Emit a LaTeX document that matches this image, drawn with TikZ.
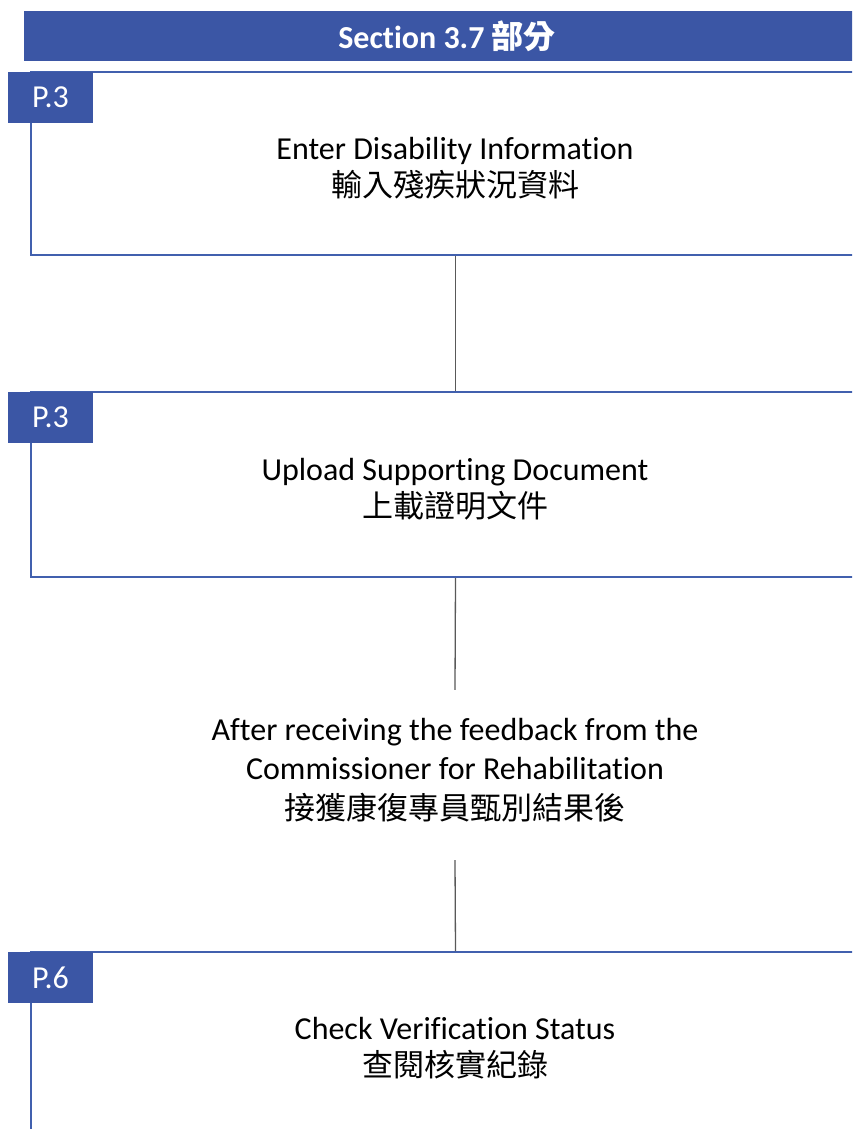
\documentclass[tikz,border=0pt]{standalone}
\usepackage{fontspec}
\setmainfont{Carlito}[Ligatures={NoCommon,NoContextual},RawFeature={-clig;-dlig}]
\newfontfamily\cjk{Noto Sans CJK TC}
\definecolor{hdrblue}{HTML}{3B56A5}
\definecolor{frameblue}{HTML}{4160AE}
\definecolor{linkgray}{HTML}{595959}
\tikzset{
  frame/.style={draw=frameblue, line width=2pt, minimum width=849pt, inner sep=0pt},
  tag/.style={fill=hdrblue, text=white, minimum width=85pt, minimum height=51pt, inner sep=0pt,
    font=\fontsize{32}{36}\selectfont},
  steptext/.style={align=center, text=black, font=\fontsize{32}{37}\selectfont},
  link/.style={draw=linkgray, line width=1.3pt},
}
\newcommand{\cjkline}[1]{{\cjk\fontsize{31}{37}\selectfont #1}}
\begin{document}
\begin{tikzpicture}[x=1pt,y=-1pt]
\useasboundingbox (0,0) rectangle (852,1129);
\clip (0,0) rectangle (852,1129);
\fill[white] (0,0) rectangle (852,1129);
% header
\node[fill=hdrblue, text=white, minimum width=846pt, minimum height=50pt, inner sep=0pt,
  font=\fontsize{32}{36}\selectfont\bfseries] (hdr) at (447,36) {Section 3.7 {\cjk\bfseries 部分}};
% frames
\node[frame, minimum height=183pt] (b1) at (455.5,163.5) {};
\node[frame, minimum height=185pt] (b2) at (455.5,484.5) {};
\node[frame, minimum height=220pt] (b3) at (455.5,1062) {};
% tags
\node[tag] (t1) at (50.5,97.5) {P.3};
\node[tag] (t2) at (50.5,417.5) {P.3};
\node[tag] (t3) at (50.5,977.5) {P.6};
% texts
\node[steptext] (s1) at (455,168) {Enter Disability Information\\\cjkline{輸入殘疾狀況資料}};
\node[steptext] (s2) at (455,489) {Upload Supporting Document\\\cjkline{上載證明文件}};
\node[minimum height=170pt, minimum width=10pt, inner sep=0pt] (mid) at (455,775) {};
\node[steptext, font=\fontsize{32}{39.5}\selectfont, yshift=5pt] (midtext) at (mid.center)
  {After receiving the feedback from the\\Commissioner for Rehabilitation\\{\cjk\fontsize{31}{39.5}\selectfont 接獲康復專員甄別結果後}};
\node[steptext] (s3) at (455,1048) {Check Verification Status\\\cjkline{查閱核實紀錄}};
% connectors
\draw[link] (b1.south) -- (b2.north);
\draw[link] (b2.south) -- (mid.north);
\draw[link] (mid.south) -- (b3.north);
\end{tikzpicture}
\end{document}
